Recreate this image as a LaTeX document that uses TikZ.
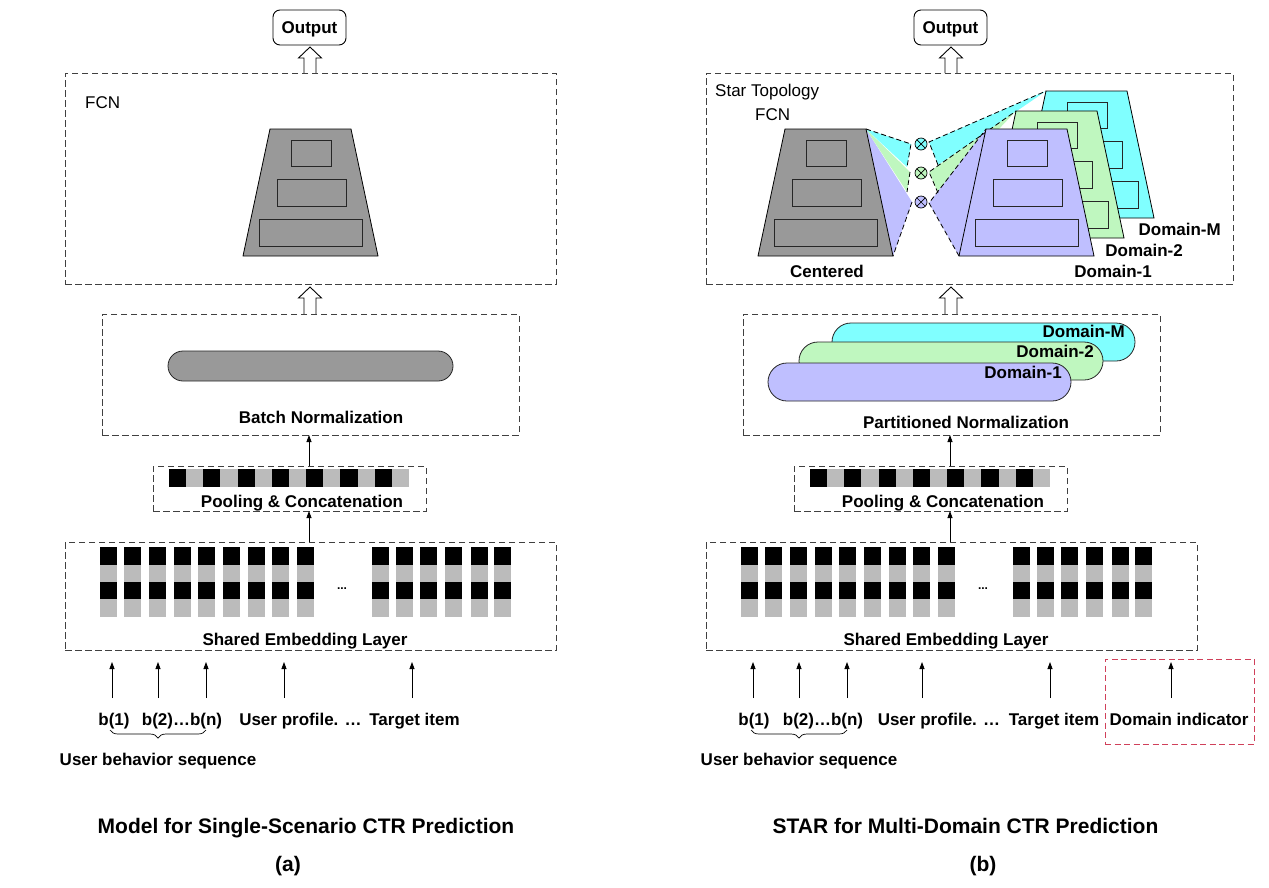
\documentclass[tikz,border=0pt]{standalone}
\usepackage{fontspec}
\setmainfont{Liberation Sans}
\usetikzlibrary{arrows.meta,decorations.pathreplacing}
\definecolor{trapgray}{HTML}{999999}
\definecolor{embgray}{HTML}{BBBBBB}
\definecolor{lav}{HTML}{BFBFFF}
\definecolor{lgreen}{HTML}{BFF7BF}
\definecolor{lcyan}{HTML}{80FFFF}
\definecolor{redbox}{HTML}{D0405A}
\tikzset{
  dbox/.style={draw=black!75, line width=0.9pt, dash pattern=on 6.5pt off 3.5pt, inner sep=0pt, outer sep=0pt},
  lbl/.style={font=\fontsize{17}{20}\selectfont\bfseries, inner sep=0pt},
  rlbl/.style={font=\fontsize{17}{20}\selectfont, inner sep=0pt},
  captxt/.style={font=\fontsize{21}{24}\selectfont\bfseries, inner sep=0pt},
  thinarrow/.style={-{Triangle[length=7pt,width=5pt]}, line width=0.8pt},
  outbox/.style={draw, rounded corners=7pt, line width=0.9pt, minimum width=73pt, minimum height=35pt,
     text height=12.5pt, text depth=0pt, inner sep=0pt, outer sep=0pt, font=\fontsize{17}{20}\selectfont\bfseries},
  trap/.style={draw=black, line width=0.8pt},
  inrect/.style={draw=black!85, line width=1pt},
  fan/.style={draw=black, line width=0.8pt, dash pattern=on 5pt off 3pt},
  pill/.style={draw=black!85, line width=0.8pt, rounded corners=19pt},
}
\newcommand\hollowup[3]{\draw[line width=0.9pt,fill=white] (#1-6,#3) -- (#1-6,#2+11) -- (#1-11.5,#2+11) -- (#1,#2) -- (#1+11.5,#2+11) -- (#1+6,#2+11) -- (#1+6,#3);}
\newcommand\embcol[1]{%
  \fill[black] (#1,547) rectangle (#1+17,565);
  \fill[embgray] (#1,565) rectangle (#1+17,582);
  \fill[black] (#1,582) rectangle (#1+17,599);
  \fill[embgray] (#1,599) rectangle (#1+17,617);}
\newcommand\otimesat[3]{%
  \draw[fill=#3, line width=0.7pt] (#1,#2) circle (6pt);
  \draw[line width=0.7pt] (#1-4.2,#2-4.2) -- (#1+4.2,#2+4.2) (#1-4.2,#2+4.2) -- (#1+4.2,#2-4.2);}
\newcommand\traprects[2]{%
  \draw[inrect] (#1+48,#2+11) rectangle (#1+88,#2+37);
  \draw[inrect] (#1+34,#2+50) rectangle (#1+103,#2+77);
  \draw[inrect] (#1+16,#2+90) rectangle (#1+119,#2+117);}
\newcommand\trapshape[3]{% bottom-left x, top y, fill
  \draw[trap, fill=#3] (#1,#2+127) -- (#1+27,#2) -- (#1+108,#2) -- (#1+135,#2+127) -- cycle;
  \traprects{#1}{#2}}
\begin{document}
\begin{tikzpicture}[x=1pt,y=-1pt]
\useasboundingbox (0,0) rectangle (1269,887);
\fill[white] (0,0) rectangle (1269,887);

%================ LEFT PANEL =================
\node[outbox] (outL) at (309.5,27.5) {Output};
\hollowup{310}{47}{73}
\node[dbox, minimum width=491pt, minimum height=211pt, anchor=north west] (fcnL) at (65,73) {};
\node[rlbl, anchor=base west] (fcnLlbl) at (85,108) {FCN};
\trapshape{243}{129}{trapgray}
\hollowup{310}{287}{314}
\node[dbox, minimum width=417pt, minimum height=121pt, anchor=north west] (bnL) at (102,314) {};
\draw[pill, fill=trapgray, rounded corners=15pt] (168,351) rectangle (453,381);
\node[lbl, anchor=base] (bnLlbl) at (321,423) {Batch Normalization};
\node[dbox, minimum width=273pt, minimum height=45pt, anchor=north west] (poolL) at (153,466) {};
\foreach \i in {0,...,13} {
  \pgfmathsetmacro\xa{169+\i*17.14}
  \pgfmathtruncatemacro\odd{mod(\i,2)}
  \ifnum\odd=0 \fill[black] (\xa,469) rectangle (\xa+17.14,487); \else \fill[embgray] (\xa,469) rectangle (\xa+17.14,487); \fi
}
\node[lbl, anchor=base] (poolLlbl) at (302,507) {Pooling \& Concatenation};
\draw[thinarrow] (poolL.north -| 309,0) -- (bnL.south -| 309,0);
\node[dbox, minimum width=491pt, minimum height=108pt, anchor=north west] (embL) at (65,542) {};
\foreach \x in {100,124,149,174,198,223,248,272,297,372,396,420,445,471,494} {\embcol{\x}}
\node[lbl, anchor=base, font=\fontsize{12}{14}\selectfont\bfseries] (dotsL) at (342,589) {...};
\node[lbl, anchor=base] (embLlbl) at (305,645) {Shared Embedding Layer};
\draw[thinarrow] (embL.north -| 309,0) -- (poolL.south -| 309,0);
\foreach \x in {112,158,206,284,412} {\draw[thinarrow] (\x,698) -- (\x,662);}
\node[lbl, anchor=base] (b1L) at (114,725) {b(1)};
\node[lbl, anchor=base] (b2L) at (182,725) {b(2)…b(n)};
\node[lbl, anchor=base] (upL) at (300.5,725) {User profile. …};
\node[lbl, anchor=base] (tiL) at (414.5,725) {Target item};
\draw[decorate, decoration={brace, mirror, amplitude=8pt}, line width=0.7pt] (110,730) -- (206,730);
\node[lbl, anchor=base] (ubsL) at (158,765) {User behavior sequence};
\node[captxt, anchor=base] (capL) at (306,833) {Model for Single-Scenario CTR Prediction};
\node[captxt, anchor=base] (capa) at (288,871) {(a)};

%================ RIGHT PANEL =================
\node[outbox] (outR) at (950.5,27.5) {Output};
\hollowup{951}{47}{73}
\node[dbox, minimum width=527pt, minimum height=211pt, anchor=north west] (starR) at (706,73) {};
\node[rlbl, anchor=base west] (stlbl) at (715,96) {Star Topology};
\node[rlbl, anchor=base west] (fcnRlbl) at (755,120) {FCN};

% left fan (from Centered)
\fill[lav] (866,129) -- (912,202) -- (893,256) -- cycle;
\fill[lgreen] (866,129) -- (910,172) -- (907,192) -- cycle;
\fill[lcyan] (866,129) -- (911,144) -- (907,167) -- cycle;
\draw[fan] (866,129) -- (911,144) -- (907,167);
\draw[fan] (910,172) -- (907,192);
\draw[fan] (912,202) -- (893,256);
% right fan (to domains)
\fill[lcyan] (929,142) -- (1046,91) -- (938,165) -- cycle;
\fill[lgreen] (929,172) -- (1016,111) -- (938,193) -- cycle;
\fill[lav] (929,203) -- (986,129) -- (959,256) -- cycle;
\draw[fan] (938,165) -- (929,142) -- (1046,91);
\draw[fan] (938,193) -- (929,172) -- (1016,111);
\draw[fan] (959,256) -- (929,203) -- (986,129);

\trapshape{758}{129}{trapgray}
\trapshape{1019}{91}{lcyan}
\trapshape{989}{111}{lgreen}
\trapshape{959}{129}{lav}
\otimesat{921}{144}{lcyan}
\otimesat{921}{173}{lgreen}
\otimesat{921}{202}{lav}
\node[lbl, anchor=base] (centlbl) at (827,277) {Centered};
\node[lbl, anchor=base east] (dmlbl) at (1221,235) {Domain-M};
\node[lbl, anchor=base east] (d2lbl) at (1183,256) {Domain-2};
\node[lbl, anchor=base east] (d1lbl) at (1152,277) {Domain-1};

\hollowup{951}{287}{314}
\node[dbox, minimum width=417pt, minimum height=121pt, anchor=north west] (pnR) at (743,314) {};
\draw[pill, fill=lcyan] (832,323) rectangle (1135,361);
\draw[pill, fill=lgreen] (799,342) rectangle (1103,380);
\draw[pill, fill=lav] (768,363) rectangle (1071,401);
\node[lbl, anchor=base east] (pdm) at (1125,337) {Domain-M};
\node[lbl, anchor=base east] (pd2) at (1094,357) {Domain-2};
\node[lbl, anchor=base east] (pd1) at (1062,378) {Domain-1};
\node[lbl, anchor=base] (pnlbl) at (966,428) {Partitioned Normalization};

\node[dbox, minimum width=273pt, minimum height=45pt, anchor=north west] (poolR) at (794,466) {};
\foreach \i in {0,...,13} {
  \pgfmathsetmacro\xa{810+\i*17.14}
  \pgfmathtruncatemacro\odd{mod(\i,2)}
  \ifnum\odd=0 \fill[black] (\xa,469) rectangle (\xa+17.14,487); \else \fill[embgray] (\xa,469) rectangle (\xa+17.14,487); \fi
}
\node[lbl, anchor=base] (poolRlbl) at (943,507) {Pooling \& Concatenation};
\draw[thinarrow] (poolR.north -| 950,0) -- (pnR.south -| 950,0);
\node[dbox, minimum width=491pt, minimum height=108pt, anchor=north west] (embR) at (706,542) {};
\foreach \x in {100,124,149,174,198,223,248,272,297,372,396,420,445,471,494} {\embcol{\x+641}}
\node[lbl, anchor=base, font=\fontsize{12}{14}\selectfont\bfseries] (dotsR) at (983,589) {...};
\node[lbl, anchor=base] (embRlbl) at (946,645) {Shared Embedding Layer};
\draw[thinarrow] (embR.north -| 950,0) -- (poolR.south -| 950,0);
\foreach \x in {753,799,847,922,1050,1171} {\draw[thinarrow] (\x,698) -- (\x,662);}
\node[lbl, anchor=base] (b1R) at (754,725) {b(1)};
\node[lbl, anchor=base] (b2R) at (823,725) {b(2)…b(n)};
\node[lbl, anchor=base] (upR) at (939,725) {User profile. …};
\node[lbl, anchor=base] (tiR) at (1054,725) {Target item};
\node[lbl, anchor=base] (diR) at (1179,725) {Domain indicator};
\node[draw=redbox, line width=0.9pt, dash pattern=on 6pt off 3.5pt, minimum width=149pt, minimum height=85pt, inner sep=0pt] (redR) at (1179.5,701.5) {};
\draw[decorate, decoration={brace, mirror, amplitude=8pt}, line width=0.7pt] (751,730) -- (847,730);
\node[lbl, anchor=base] (ubsR) at (799,765) {User behavior sequence};
\node[captxt, anchor=base] (capR) at (965.5,833) {STAR for Multi-Domain CTR Prediction};
\node[captxt, anchor=base] (capb) at (983,871) {(b)};
\end{tikzpicture}
\end{document}
